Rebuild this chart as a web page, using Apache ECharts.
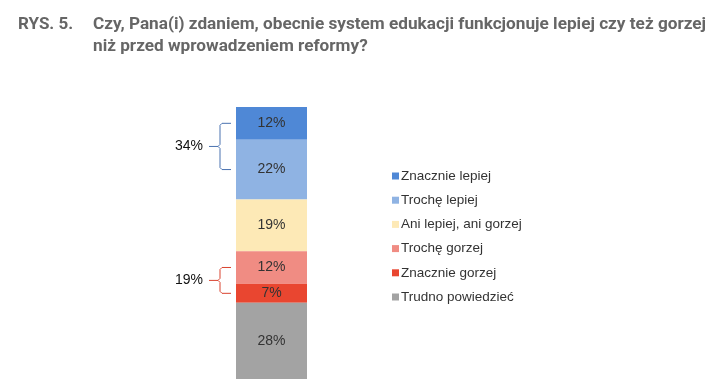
<!DOCTYPE html>
<html><head><meta charset="utf-8">
<script src="https://cdn.jsdelivr.net/npm/echarts@6/dist/echarts.min.js"></script>
<style>html,body{margin:0;padding:0;background:#fff}#c{width:717px;height:388px}</style>
</head><body><div id="c"></div>
<script>
var categories = ['Ogółem'];
var seriesNames = ['Znacznie lepiej', 'Trochę lepiej', 'Ani lepiej, ani gorzej', 'Trochę gorzej', 'Znacznie gorzej', 'Trudno powiedzieć'];
var seriesValues = [12, 22, 19, 12, 7, 28];
var colors = ['#4f88d6', '#8fb3e3', '#fde9b6', '#f08c83', '#e94630', '#a3a3a3'];
var bracketGroups = [{label: '34%', from: 0, to: 1, color: '#4a72b0'}, {label: '19%', from: 3, to: 4, color: '#d9432f'}];

var chart = echarts.init(document.getElementById('c'));
var series = seriesNames.map(function (n, i) {
  return {
    name: n, type: 'bar', stack: 'all', barWidth: '100%',
    data: [seriesValues[i]],
    itemStyle: {color: colors[i]},
    label: {show: true, position: 'inside', formatter: '{c}%', color: '#333', fontSize: 14, fontFamily: 'Liberation Sans, Arial'},
    emphasis: {disabled: true}
  };
});
chart.setOption({
  animation: false,
  title: [
    {text: 'RYS. 5.', left: 13, top: 9, textStyle: {fontFamily: 'Roboto', fontWeight: 'bold', fontSize: 17, lineHeight: 22, color: '#666'}},
    {text: 'Czy, Pana(i) zdaniem, obecnie system edukacji funkcjonuje lepiej czy też gorzej\nniż przed wprowadzeniem reformy?', left: 88, top: 9,
     textStyle: {fontFamily: 'Roboto', fontWeight: 'bold', fontSize: 17.2, lineHeight: 22, color: '#666'}}
  ],
  grid: {left: 236, width: 71, top: 107, height: 272},
  xAxis: {type: 'category', data: categories, show: false},
  yAxis: {type: 'value', min: 0, max: 100, inverse: true, show: false},
  legend: {
    orient: 'vertical', left: 387, top: 164, icon: 'rect', itemWidth: 7, itemHeight: 7, itemGap: 10.2,
    textStyle: {fontSize: 13.5, color: '#333', fontFamily: 'Liberation Sans, Arial', padding: [0, 0, 0, -3]},
    selectedMode: false
  },
  series: series
});

// brackets from stacked data positions
var cum = [0];
seriesValues.forEach(function (v, i) { cum.push(cum[i] + v); });
var graphics = [];
bracketGroups.forEach(function (g) {
  var yA = chart.convertToPixel({gridIndex: 0}, [0, (cum[g.from] + cum[g.from + 1]) / 2])[1];
  var yB = chart.convertToPixel({gridIndex: 0}, [0, (cum[g.to] + cum[g.to + 1]) / 2])[1];
  var xr = 231, xv = 220, ym = (yA + yB) / 2;
  graphics.push({
    type: 'polyline', silent: true,
    shape: {points: [[xr, yA], [xv + 2, yA], [xv, yA + 2], [xv, ym - 2], [xv - 2, ym], [xv, ym + 2], [xv, yB - 2], [xv + 2, yB], [xr, yB]]},
    style: {stroke: g.color, lineWidth: 1, fill: null}
  });
  graphics.push({
    type: 'line', silent: true,
    shape: {x1: xv - 2, y1: ym, x2: xv - 11, y2: ym},
    style: {stroke: g.color, lineWidth: 1}
  });
  graphics.push({
    type: 'text', silent: true, x: 203, y: ym,
    style: {text: g.label, fill: '#111', fontSize: 14, fontFamily: 'Liberation Sans, Arial', align: 'right', verticalAlign: 'middle'}
  });
});
chart.setOption({graphic: graphics});
</script></body></html>
